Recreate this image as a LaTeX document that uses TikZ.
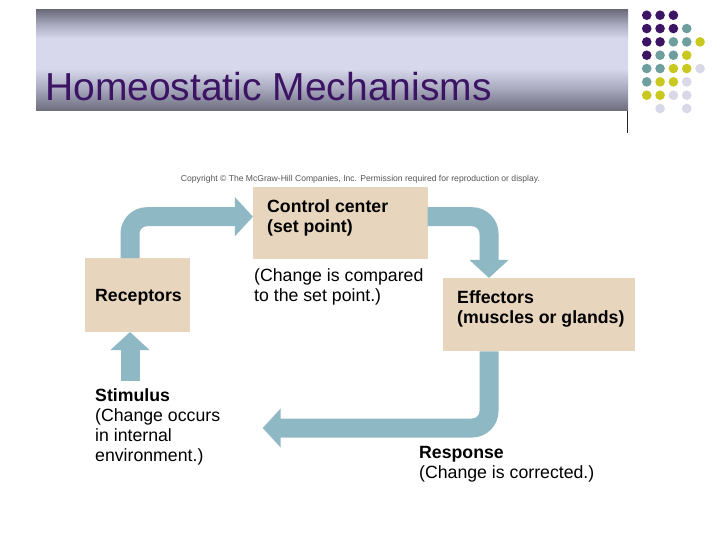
\documentclass[tikz,border=0pt]{standalone}
\usepackage{fontspec}
\setmainfont{Liberation Sans}
\usepackage{graphicx}
\usetikzlibrary{arrows.meta}
\definecolor{boxfill}{HTML}{E8D5BD}
\definecolor{flowc}{HTML}{8EB8C3}
\definecolor{titlec}{HTML}{3C1464}
\definecolor{dotP}{HTML}{3C1464}
\definecolor{dotT}{HTML}{6E9E9E}
\definecolor{dotY}{HTML}{C8C81E}
\definecolor{dotL}{HTML}{D8D8E8}
\definecolor{barDark}{HTML}{6C6C7C}
\definecolor{barMid}{HTML}{A8A8BE}
\definecolor{barLight}{HTML}{D8D8EC}
\definecolor{copyc}{HTML}{555555}
\pgfdeclareverticalshading{titlebar}{100bp}{color(0bp)=(barDark); color(25bp)=(barDark); color(36bp)=(barMid); color(46bp)=(barLight); color(61bp)=(barLight); color(68bp)=(barMid); color(75bp)=(barDark); color(100bp)=(barDark)}
\newcommand{\mylines}[1]{\begin{tabular}[t]{@{}l@{}}#1\end{tabular}}
\begin{document}
\begin{tikzpicture}[x=1pt,y=-1pt,
  box/.style={fill=boxfill, draw=none, inner sep=0pt, outer sep=0pt},
  lbl/.style={anchor=base west, inner sep=0pt, font=\fontsize{17.7}{20}\selectfont},
  flow/.style={draw=flowc, line width=19pt, rounded corners=17pt, -{Triangle[length=18pt,width=38pt]}},
  dot/.style={circle, inner sep=0pt, minimum size=9.6pt, draw=none},
]
\useasboundingbox[fill=white] (0,0) rectangle (720,540);

% title bar
\shade[shading=titlebar] (36,10) rectangle (628,111);
\draw[line width=1pt, black!85] (627,111) -- (627,133);
\node[anchor=base west, inner sep=0pt, text=titlec, font=\fontsize{39}{39}\selectfont] (title) at (45,100.5) {Homeostatic Mechanisms};

% dots
\foreach \c/\r/\col in {1/1/dotP,2/1/dotP,3/1/dotP,
  1/2/dotP,2/2/dotP,3/2/dotP,4/2/dotT,
  1/3/dotP,2/3/dotP,3/3/dotT,4/3/dotT,5/3/dotY,
  1/4/dotP,2/4/dotT,3/4/dotT,4/4/dotY,
  1/5/dotT,2/5/dotT,3/5/dotY,4/5/dotY,5/5/dotL,
  1/6/dotT,2/6/dotY,3/6/dotY,4/6/dotL,
  1/7/dotY,2/7/dotY,3/7/dotL,4/7/dotL,
  2/8/dotL,4/8/dotL}
  \node[dot, fill=\col] (d\c\r) at ({633.4+13.33*\c},{1.9+13.33*\r}) {};

% copyright
\node[anchor=base, inner sep=0pt, text=copyc, font=\fontsize{7}{8}\selectfont] (copy) at (360.5,182)
  {\resizebox{359pt}{!}{Copyright \textcopyright{} The McGraw-Hill Companies, Inc. Permission required for reproduction or display.}};

% boxes
\node[box, minimum width=174.7pt, minimum height=72.6pt] (cc) at (340.3,223) {};
\node[box, minimum width=105pt, minimum height=74pt] (rec) at (137.5,295) {};
\node[box, minimum width=192pt, minimum height=73.5pt] (eff) at (539,314.7) {};

% labels
\node[lbl] (cctext) at (267,212.7) {\bfseries\mylines{Control center\\(set point)}};
\node[lbl] (cmp) at (254,281.7) {\mylines{(Change is compared\\to the set point.)}};
\node[lbl] (rectext) at (95,301.7) {\bfseries Receptors};
\node[lbl] (efftext) at (457,303) {\bfseries\mylines{Effectors\\(muscles or glands)}};
\node[lbl] (stim) at (95,401) {\mylines{\textbf{Stimulus}\\(Change occurs\\in internal\\environment.)}};
\node[lbl] (resp) at (419,458) {\mylines{\textbf{Response}\\(Change is corrected.)}};

% connectors
\coordinate (a1) at (130,216.7);
\coordinate (a2) at (489,216.7);
\coordinate (a3) at (262.7,428);
\coordinate (a4) at (130,381);
\draw[flow] (rec.north -| a1) |- (cc.west |- a1);
\draw[flow] (cc.east |- a2) -| (eff.north -| a2);
\draw[flow] (eff.south -| a2) |- (a3);
\draw[flow] (a4) -- (rec.south -| a4);
\end{tikzpicture}
\end{document}
